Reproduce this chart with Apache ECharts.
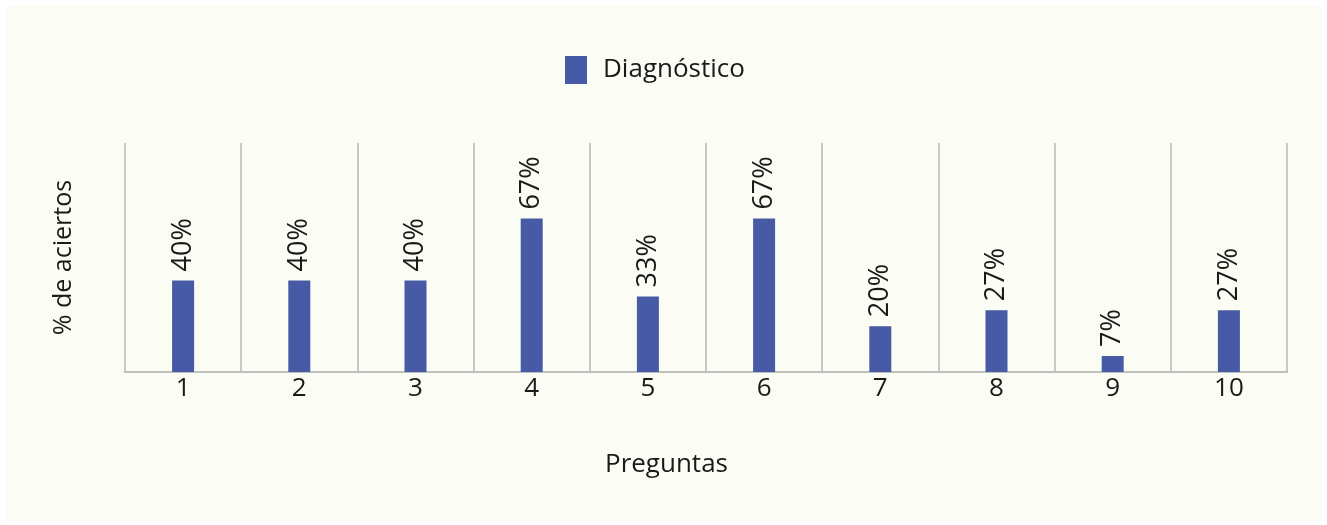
<!DOCTYPE html>
<html>
<head>
<meta charset="utf-8">
<script src="https://cdn.jsdelivr.net/npm/echarts@6/dist/echarts.min.js"></script>
<style>
html,body{margin:0;padding:0;background:#ffffff;}
#chart{width:1327px;height:525px;}
</style>
</head>
<body>
<div id="chart"></div>
<script>
var categories = ['1','2','3','4','5','6','7','8','9','10'];
var seriesName = 'Diagnóstico';
var values = [40, 40, 40, 67, 33, 67, 20, 27, 7, 27];
var xAxisTitle = 'Preguntas';
var yAxisTitle = '% de aciertos';

var FONT = '"Open Sans", sans-serif';
var chart = echarts.init(document.getElementById('chart'));
chart.setOption({
  backgroundColor: '#ffffff',
  animation: false,
  graphic: [{
    type: 'rect', z: -10, silent: true,
    shape: {x: 6, y: 6, width: 1316, height: 515},
    style: {fill: '#fbfcf3'}
  }],
  title: {
    text: xAxisTitle,
    left: 605, top: 452,
    padding: 0,
    textStyle: {fontFamily: FONT, fontSize: 26, fontWeight: 'normal', color: '#1a1a1a'}
  },
  legend: {
    data: [seriesName],
    left: 565, top: 56,
    padding: 0,
    itemWidth: 22, itemHeight: 28,
    icon: 'rect',
    textStyle: {fontFamily: FONT, fontSize: 26, color: '#1a1a1a', padding: [0, 0, 0, 11]}
  },
  grid: {left: 125, right: 40, top: 143, bottom: 153},
  xAxis: {
    type: 'category',
    data: categories,
    boundaryGap: true,
    axisLine: {show: true, lineStyle: {color: '#bfbfbf', width: 2}},
    axisTick: {show: false},
    axisLabel: {fontFamily: FONT, fontSize: 26, color: '#1a1a1a', margin: 4},
    splitLine: {show: true, lineStyle: {color: '#c8c8c8', width: 2}}
  },
  yAxis: {
    type: 'value',
    min: 0, max: 100,
    name: yAxisTitle,
    nameLocation: 'middle',
    nameRotate: 90,
    nameGap: 49,
    nameTextStyle: {fontFamily: FONT, fontSize: 25, color: '#1a1a1a'},
    axisLine: {show: false},
    axisTick: {show: false},
    axisLabel: {show: false},
    splitLine: {show: false}
  },
  series: [{
    name: seriesName,
    type: 'bar',
    data: values,
    barWidth: 22,
    itemStyle: {color: '#475aa5'},
    label: {
      show: true,
      position: 'top',
      distance: 9,
      rotate: 90,
      align: 'left',
      verticalAlign: 'middle',
      formatter: '{c}%',
      fontFamily: FONT,
      fontSize: 27,
      color: '#1a1a1a'
    }
  }]
});
</script>
</body>
</html>
